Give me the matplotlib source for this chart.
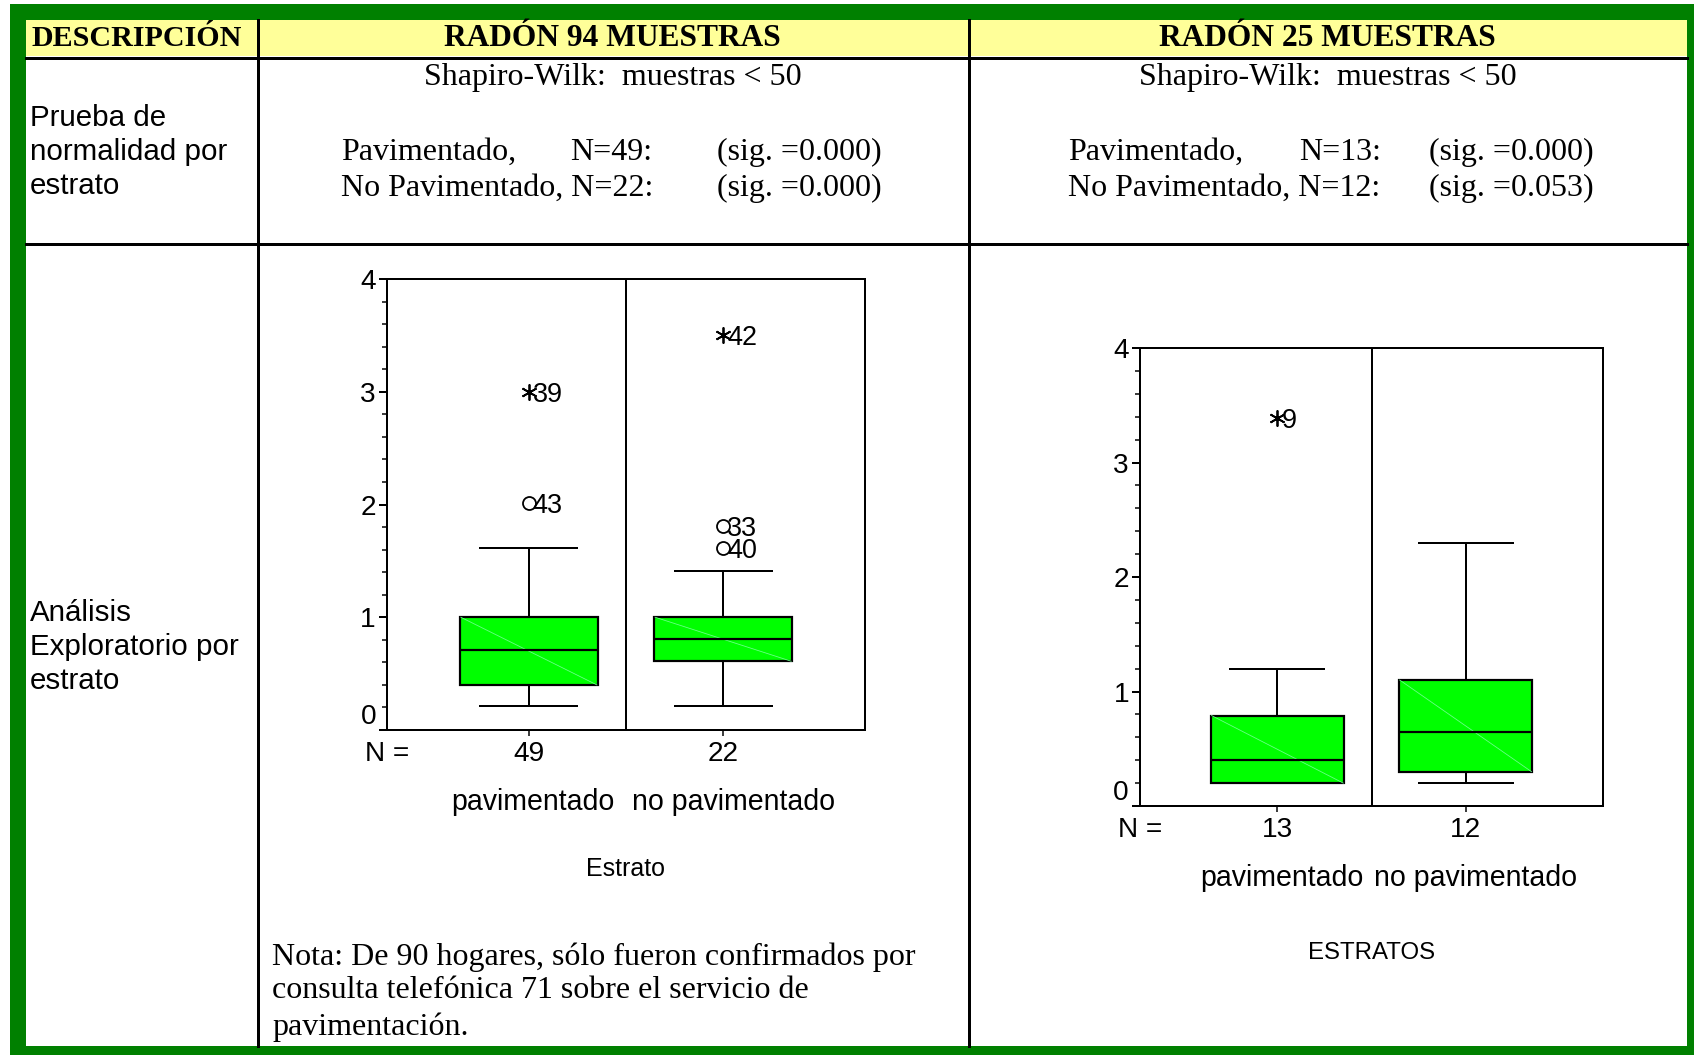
import matplotlib
matplotlib.use('Agg')
import matplotlib.pyplot as plt
from matplotlib.patches import Rectangle
from matplotlib.ticker import MultipleLocator

plt.rcParams['font.family'] = 'Liberation Sans'

# ── DATOS ─────────────────────────────────────────────────────────────────────
grupos = ['pavimentado', 'no pavimentado']
niveles_y = [0, 1, 2, 3, 4]

# Radón, 94 muestras
n_94 = [49, 22]
sig_94 = ['0.000', '0.000']
q1_94 = [0.40, 0.61]
mediana_94 = [0.71, 0.81]
q3_94 = [1.00, 1.00]
bigote_inf_94 = [0.21, 0.21]
bigote_sup_94 = [1.61, 1.41]
atip_grupo_94 = [1, 1, 2, 2, 2]
atip_valor_94 = [3.00, 2.01, 3.50, 1.81, 1.61]
atip_caso_94 = ['39', '43', '42', '33', '40']
atip_extremo_94 = [True, False, True, False, False]

# Radón, 25 muestras
n_25 = [13, 12]
sig_25 = ['0.000', '0.053']
q1_25 = [0.20, 0.30]
mediana_25 = [0.40, 0.65]
q3_25 = [0.79, 1.10]
bigote_inf_25 = [0.20, 0.20]
bigote_sup_25 = [1.20, 2.30]
atip_grupo_25 = [1]
atip_valor_25 = [3.39]
atip_caso_25 = ['9']
atip_extremo_25 = [True]

nota = ['Nota: De 90 hogares, sólo fueron confirmados por',
        'consulta telefónica 71 sobre el servicio de',
        'pavimentación.']

# ── LIENZO (1 pt = 1 px) ──────────────────────────────────────────────────────
DPI = 72
W, H = 1694, 1055
fig = plt.figure(figsize=(W / DPI, H / DPI), dpi=DPI)
bg = fig.add_axes([0, 0, 1, 1])
bg.set_xlim(0, W)
bg.set_ylim(H, 0)
bg.axis('off')

SERIF = 'Liberation Serif'
VERDE = '#008000'
AMARILLO = '#FFFF99'
FS_SERIF = 32

# marco verde, cabecera amarilla y rejilla negra
bg.add_patch(Rectangle((10, 4), W - 10, H - 4, color=VERDE, lw=0))
bg.add_patch(Rectangle((26, 20), 1687 - 26, 1046 - 20, color='white', lw=0))
bg.add_patch(Rectangle((26, 20), 1687 - 26, 56 - 20, color=AMARILLO, lw=0))
bg.plot([26, 1687], [57.5, 57.5], color='black', lw=3)
bg.plot([26, 1687], [244, 244], color='black', lw=3)
for xv in [257.5, 968.5]:
    bg.plot([xv, xv], [20, 1046], color='black', lw=3)

col_c = [612.5, 1327.5]

# cabecera
bg.text(31, 38, 'DESCRIPCIÓN', ha='left', va='center', family=SERIF,
        weight='bold', fontsize=30)
bg.text(col_c[0], 38, 'RADÓN 94 MUESTRAS', ha='center', va='center',
        family=SERIF, weight='bold', fontsize=31.5)
bg.text(col_c[1], 38, 'RADÓN 25 MUESTRAS', ha='center', va='center',
        family=SERIF, weight='bold', fontsize=31.5)

# columna de descripción
for y, s in zip([118, 152, 186], ['Prueba de', 'normalidad por', 'estrato']):
    bg.text(30, y, s, ha='left', va='center', fontsize=29.5)
for y, s in zip([613, 647, 681], ['Análisis', 'Exploratorio por', 'estrato']):
    bg.text(30, y, s, ha='left', va='center', fontsize=29.5)

# prueba de normalidad
for cx, x0, xn, xs, n, sig in [(col_c[0], 341, 570, 717, n_94, sig_94),
                               (col_c[1], 1068, 1299, 1429, n_25, sig_25)]:
    bg.text(cx, 78, 'Shapiro-Wilk:  muestras < 50', ha='center', va='center',
            family=SERIF, fontsize=FS_SERIF)
    bg.text(x0, 152, 'Pavimentado,', ha='left', va='center', family=SERIF,
            fontsize=FS_SERIF)
    bg.text(xn, 152, f'N={n[0]}:', ha='left', va='center', family=SERIF,
            fontsize=FS_SERIF)
    bg.text(x0, 188, f'No Pavimentado, N={n[1]}:', ha='left', va='center',
            family=SERIF, fontsize=FS_SERIF)
    bg.text(xs, 152, f'(sig. ={sig[0]})', ha='left', va='center', family=SERIF,
            fontsize=FS_SERIF)
    bg.text(xs, 188, f'(sig. ={sig[1]})', ha='left', va='center', family=SERIF,
            fontsize=FS_SERIF)

for y, s in zip([957, 991, 1027], nota):
    bg.text(272, y, s, ha='left', va='center', family=SERIF, fontsize=FS_SERIF)


# ── DIAGRAMAS DE CAJA ─────────────────────────────────────────────────────────
def caja(px, n, q1, med, q3, lo, hi, og, ov, oc, oe, titulo, dy_titulo, fs_titulo):
    l, t, r, b = px
    ax = fig.add_axes([l / W, 1 - b / H, (r - l) / W, (b - t) / H])
    stats = [dict(med=m, q1=a, q3=c, whislo=w0, whishi=w1, fliers=[])
             for a, m, c, w0, w1 in zip(q1, med, q3, lo, hi)]
    ax.bxp(stats, positions=[1, 2], widths=0.71, capwidths=0.5,
           patch_artist=True, showfliers=False,
           boxprops=dict(facecolor='#00FF00', edgecolor='black', linewidth=2.2),
           medianprops=dict(color='black', linewidth=2.2),
           whiskerprops=dict(color='black', linewidth=2),
           capprops=dict(color='black', linewidth=2))
    # brillo diagonal tenue dentro de cada caja
    for x, a, c in zip([1, 2], q1, q3):
        ax.plot([x - 0.35, x + 0.35], [c, a], color='#6CFF8C', lw=0.8, zorder=2.05)
    ax.axvline(1.5, color='black', lw=2)

    ax.set_xlim(0.27, 2.73)
    ax.set_ylim(0, 4)
    for sp in ax.spines.values():
        sp.set_linewidth(2)
    ax.set_yticks(niveles_y, labels=[str(v) for v in niveles_y])
    ax.yaxis.set_minor_locator(MultipleLocator(0.2))
    ax.tick_params(axis='y', which='major', length=8, width=2, pad=3, labelsize=28)
    ax.tick_params(axis='y', which='minor', length=5, width=1.5)
    ax.get_yticklabels()[0].set_verticalalignment('bottom')
    ax.set_xticks([1, 2], labels=['', ''])
    ax.tick_params(axis='x', length=6, width=1.5)

    # atípicos (o) y extremos (*) con número de caso
    for g, v, c, e in zip(og, ov, oc, oe):
        if e:
            ax.plot(g, v, marker=(6, 2, 0), ms=16, mew=1.8, color='black',
                    ls='none', clip_on=False)
        else:
            ax.plot(g, v, marker='o', ms=13, mew=1.8, mfc='white', mec='black',
                    ls='none', clip_on=False)
        ax.annotate(c, xy=(g, v), xytext=(4, 0), textcoords='offset points',
                    ha='left', va='center_baseline', fontsize=27)

    # fila N = y nombres de estrato
    ax.annotate('N =', xy=(0, 0), xycoords='axes fraction', xytext=(0, -24),
                textcoords='offset points', ha='center', va='center', fontsize=28)
    for x, k, g, dx in zip([1, 2], n, grupos, [4, 10]):
        ax.annotate(str(k), xy=(x, 0), xycoords=('data', 'axes fraction'),
                    xytext=(0, -24), textcoords='offset points',
                    ha='center', va='center', fontsize=28)
        ax.annotate(g, xy=(x, 0), xycoords=('data', 'axes fraction'),
                    xytext=(dx, -72), textcoords='offset points',
                    ha='center', va='center', fontsize=28.5)
    ax.annotate(titulo, xy=(0.5, 0), xycoords='axes fraction',
                xytext=(0, -dy_titulo), textcoords='offset points',
                ha='center', va='center', fontsize=fs_titulo)
    return ax


caja((387, 279, 865, 730), n_94, q1_94, mediana_94, q3_94, bigote_inf_94,
     bigote_sup_94, atip_grupo_94, atip_valor_94, atip_caso_94, atip_extremo_94,
     'Estrato', 139, 25)
caja((1140, 348, 1603, 806), n_25, q1_25, mediana_25, q3_25, bigote_inf_25,
     bigote_sup_25, atip_grupo_25, atip_valor_25, atip_caso_25, atip_extremo_25,
     'ESTRATOS', 147, 24)

fig.savefig('out.png', dpi=DPI)
